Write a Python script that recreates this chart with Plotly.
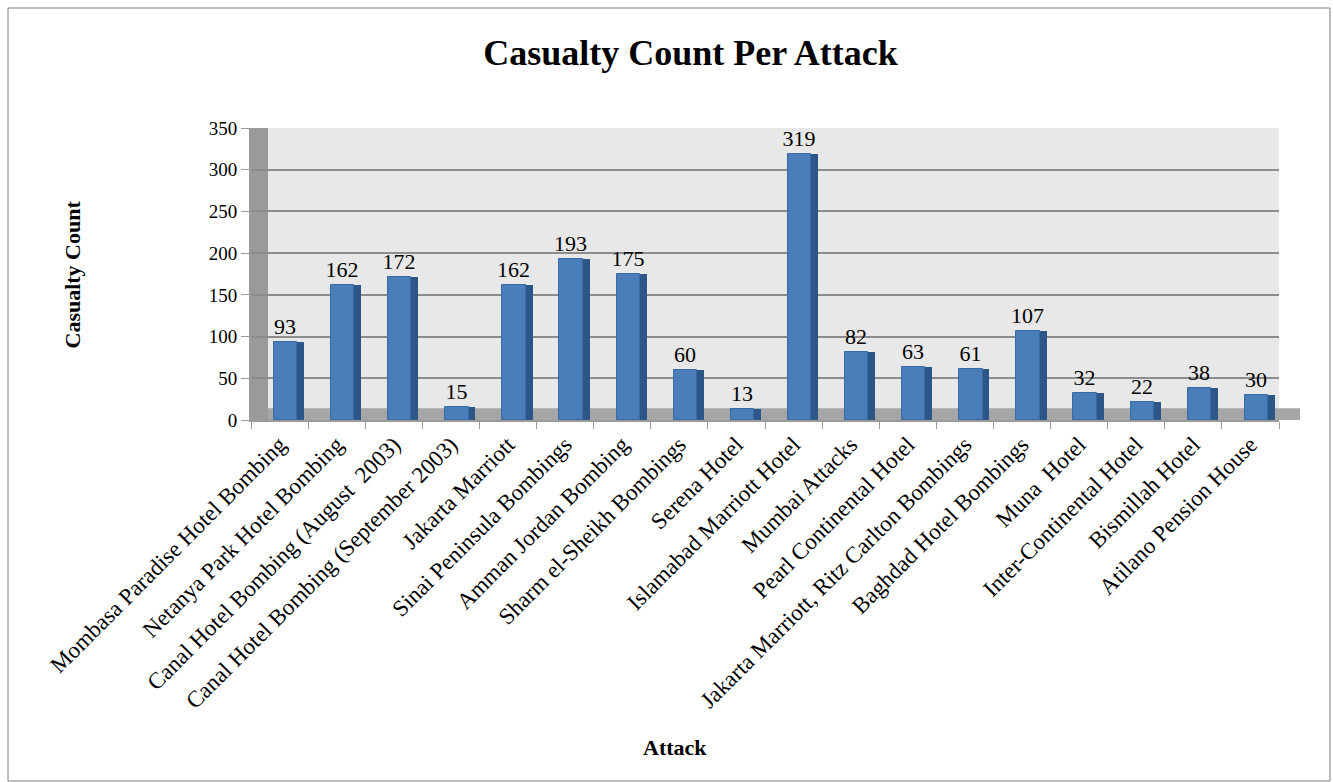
import plotly.graph_objects as go

attacks = [
    "Mombasa Paradise Hotel Bombing",
    "Netanya Park Hotel Bombing",
    "Canal Hotel Bombing (August  2003)",
    "Canal Hotel Bombing (September 2003)",
    "Jakarta Marriott",
    "Sinai Peninsula Bombings",
    "Amman Jordan Bombing",
    "Sharm el-Sheikh Bombings",
    "Serena Hotel",
    "Islamabad Marriott Hotel",
    "Mumbai Attacks",
    "Pearl Continental Hotel",
    "Jakarta Marriott, Ritz Carlton Bombings",
    "Baghdad Hotel Bombings",
    "Muna  Hotel",
    "Inter-Continental Hotel",
    "Bismillah Hotel",
    "Atilano Pension House",
]
casualties = [93, 162, 172, 15, 162, 193, 175, 60, 13, 319, 82, 63, 61, 107, 32, 22, 38, 30]
y_ticks = [0, 50, 100, 150, 200, 250, 300, 350]

FONT = "Liberation Serif, Times New Roman, serif"
W, H = 1333, 782
ML, MR, MT, MB = 251, 54, 128, 362
PW = W - ML - MR
PH = H - MT - MB

fig = go.Figure()
# side face (depth) of bars
fig.add_trace(go.Bar(
    x=attacks, y=casualties, width=0.12, offset=0.31,
    marker=dict(color="#2c5687", line=dict(width=0)),
    hoverinfo="skip", showlegend=False,
))
# front face of bars
fig.add_trace(go.Bar(
    x=attacks, y=casualties, width=0.41, offset=-0.1,
    marker=dict(color="#4a7ebb", line=dict(color="#3a6aa3", width=1)),
    text=[str(v) for v in casualties], textposition="outside",
    constraintext="none",
    textfont=dict(family=FONT, size=22, color="black"),
    cliponaxis=False, showlegend=False,
))

def px_to_paper_x(px):
    return (px - ML) / PW

def px_to_paper_y(py):
    return (H - MB - py) / PH

shapes = [
    # floor
    dict(type="rect", xref="paper", yref="paper", x0=0, x1=px_to_paper_x(1300), y0=0, y1=0.04,
         fillcolor="#a6a6a6", line=dict(width=0), layer="below"),
    # left wall
    dict(type="rect", xref="paper", yref="paper", x0=0, x1=px_to_paper_x(268), y0=0, y1=1,
         fillcolor="#9a9a9a", line=dict(width=0), layer="below"),
    # outer border
    dict(type="rect", xref="paper", yref="paper",
         x0=px_to_paper_x(8), x1=px_to_paper_x(1330),
         y0=px_to_paper_y(781), y1=px_to_paper_y(8),
         line=dict(color="#7f7f7f", width=1), fillcolor="rgba(0,0,0,0)"),
]

fig.update_layout(
    width=W, height=H,
    margin=dict(l=ML, r=MR, t=MT, b=MB),
    paper_bgcolor="white",
    plot_bgcolor="#e8e8e8",
    bargap=0.0,
    barmode="overlay",
    uniformtext=dict(minsize=22, mode="show"),
    title=dict(text="<b>Casualty Count Per Attack</b>", x=0.518, xanchor="center",
               y=1 - 52 / H, yanchor="middle",
               font=dict(family=FONT, size=36, color="black")),
    xaxis=dict(
        type="category", tickangle=-45, tickson="boundaries",
        tickfont=dict(family=FONT, size=23, color="black"),
        showline=True, linecolor="#9a9a9a", linewidth=2,
        ticks="outside", ticklen=7, tickcolor="#9a9a9a",
        showgrid=False,
    ),
    yaxis=dict(
        range=[0, 350], tickvals=y_ticks,
        tickfont=dict(family=FONT, size=19, color="black"),
        showline=True, linecolor="#9a9a9a", linewidth=2,
        ticks="outside", ticklen=8, tickcolor="#9a9a9a",
        gridcolor="#8c8c8c", gridwidth=2, zeroline=False,
    ),
    shapes=shapes,
    annotations=[
        dict(text="<b>Casualty Count</b>", xref="paper", yref="paper",
             x=px_to_paper_x(57), y=px_to_paper_y(275), textangle=-90,
             showarrow=False, font=dict(family=FONT, size=22, color="black")),
        dict(text="<b>Attack</b>", xref="paper", yref="paper",
             x=px_to_paper_x(675), y=px_to_paper_y(762),
             showarrow=False, font=dict(family=FONT, size=22, color="black")),
    ],
)

fig.write_html("out.html")
